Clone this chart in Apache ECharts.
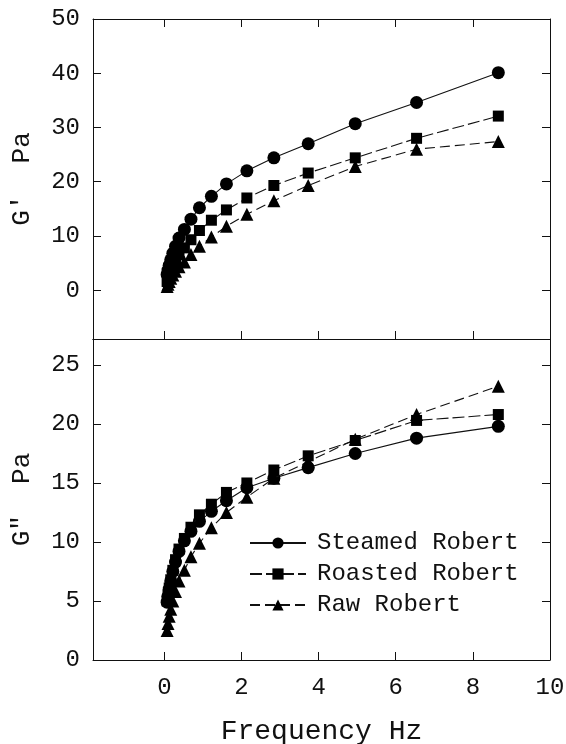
<!DOCTYPE html>
<html>
<head>
<meta charset="utf-8">
<script src="https://cdn.jsdelivr.net/npm/echarts@6/dist/echarts.min.js"></script>
<style>
  html, body { margin: 0; padding: 0; background: #fff; }
  #chart { width: 566px; height: 744px; }
</style>
</head>
<body>
<div id="chart"></div>
<script>
// Frequency (Hz)
const freq = [0.072, 0.095, 0.126, 0.166, 0.22, 0.29, 0.38, 0.52, 0.69, 0.91, 1.22, 1.61, 2.14, 2.84, 3.73, 4.95, 6.54, 8.66];

// G' (Pa)
const gpSteamed = [2.9, 3.7, 4.6, 5.6, 6.8, 8.1, 9.6, 11.2, 13.1, 15.2, 17.3, 19.6, 22.0, 24.4, 27.0, 30.7, 34.6, 40.1];
const gpRoasted = [1.6, 2.2, 2.8, 3.6, 4.4, 5.4, 6.5, 7.8, 9.3, 11.0, 12.9, 14.8, 17.0, 19.3, 21.6, 24.4, 28.0, 32.1];
const gpRaw     = [0.7, 1.1, 1.6, 2.2, 2.8, 3.5, 4.3, 5.2, 6.6, 8.1, 9.8, 11.8, 14.0, 16.5, 19.3, 22.8, 26.0, 27.4];

// G'' (Pa)
const gppSteamed = [4.9, 5.4, 6.0, 6.7, 7.5, 8.3, 9.2, 10.1, 10.9, 11.75, 12.6, 13.5, 14.6, 15.4, 16.3, 17.5, 18.8, 19.8];
const gppRoasted = [5.0, 5.5, 6.1, 6.8, 7.6, 8.5, 9.4, 10.3, 11.25, 12.3, 13.2, 14.2, 15.0, 16.1, 17.3, 18.6, 20.3, 20.8];
const gppRaw     = [2.5, 3.1, 3.7, 4.3, 5.0, 5.8, 6.7, 7.6, 8.75, 9.9, 11.2, 12.5, 13.8, 15.4, 16.8, 18.7, 20.8, 23.2];

// Tick labels
const xTicks = [0, 2, 4, 6, 8, 10];
const gpTicks = [0, 10, 20, 30, 40, 50];
const gppTicks = [0, 5, 10, 15, 20, 25];

const seriesNames = ['Steamed Robert', 'Roasted Robert', 'Raw Robert'];

const FONT = 'Liberation Mono';
const INK = '#111';

function pairs(xs, ys) { return xs.map((x, i) => [x, ys[i]]); }

const axisLine = { show: true, onZero: false, lineStyle: { color: INK, width: 1 } };

function xAxisDef(gridIndex, position, showLabels, ticksShow, name) {
  return {
    type: 'value', gridIndex, position, min: -1.85, max: 10,
    axisLine,
    axisTick: { show: ticksShow, inside: true, length: 8, lineStyle: { color: INK, width: 1 }, customValues: xTicks },
    axisLabel: { show: showLabels, customValues: xTicks, fontFamily: FONT, fontSize: 24, color: INK, margin: 16 },
    splitLine: { show: false },
    name: name || '', nameLocation: 'middle', nameGap: 58,
    nameTextStyle: { fontFamily: FONT, fontSize: 28, color: INK }
  };
}

function yAxisDef(gridIndex, position, min, max, ticks, showLabels, name) {
  return {
    type: 'value', gridIndex, position, min, max,
    axisLine,
    axisTick: { show: true, inside: true, length: 8, lineStyle: { color: INK, width: 1 }, customValues: ticks },
    axisLabel: { show: showLabels, customValues: ticks, fontFamily: FONT, fontSize: 24, color: INK, margin: 13 },
    splitLine: { show: false },
    name: name || '', nameLocation: 'middle', nameGap: 58, nameRotate: 90,
    nameTextStyle: { fontFamily: FONT, fontSize: 26, color: INK }
  };
}

const styles = [
  { symbol: 'circle', symbolSize: 13, line: 'solid' },
  { symbol: 'rect', symbolSize: 11, line: [12, 4] },
  { symbol: 'triangle', symbolSize: 13, line: [10, 5] }
];

function makeSeries(name, idx, xAxisIndex, yAxisIndex, data, z) {
  const s = styles[idx];
  return {
    type: 'line', name, xAxisIndex, yAxisIndex, data,
    symbol: s.symbol, symbolSize: s.symbolSize, showSymbol: true,
    lineStyle: { color: INK, width: 1.1, type: s.line },
    itemStyle: { color: '#000' },
    z, animation: false, silent: true
  };
}

const chart = echarts.init(document.getElementById('chart'), null, { renderer: 'canvas' });

chart.setOption({
  backgroundColor: '#fff',
  animation: false,
  grid: [
    { left: 93, right: 16, top: 19, height: 320, containLabel: false, outerBoundsMode: 'none' },
    { left: 93, right: 16, top: 339, height: 321, containLabel: false, outerBoundsMode: 'none' }
  ],
  xAxis: [
    xAxisDef(0, 'bottom', false, true),
    xAxisDef(0, 'top', false, true),
    xAxisDef(1, 'bottom', true, true, 'Frequency Hz'),
    xAxisDef(1, 'top', false, false)
  ],
  yAxis: [
    yAxisDef(0, 'left', -9, 50, gpTicks, true, "G'  Pa"),
    yAxisDef(0, 'right', -9, 50, gpTicks, false),
    yAxisDef(1, 'left', 0, 27.2, gppTicks, true, 'G"  Pa'),
    yAxisDef(1, 'right', 0, 27.2, gppTicks, false)
  ],
  legend: {
    data: seriesNames,
    orient: 'vertical',
    left: 244, top: 526,
    itemWidth: 56, itemHeight: 14, itemGap: 7,
    textStyle: { fontFamily: FONT, fontSize: 24, color: INK, padding: [0, 0, 0, 6] },
    selectedMode: false
  },
  series: [
    makeSeries(seriesNames[2], 2, 0, 0, pairs(freq, gpRaw), 2),
    makeSeries(seriesNames[1], 1, 0, 0, pairs(freq, gpRoasted), 3),
    makeSeries(seriesNames[0], 0, 0, 0, pairs(freq, gpSteamed), 4),
    makeSeries(seriesNames[0], 0, 2, 2, pairs(freq, gppSteamed), 2),
    makeSeries(seriesNames[2], 2, 2, 2, pairs(freq, gppRaw), 3),
    makeSeries(seriesNames[1], 1, 2, 2, pairs(freq, gppRoasted), 4)
  ]
});
</script>
</body>
</html>
